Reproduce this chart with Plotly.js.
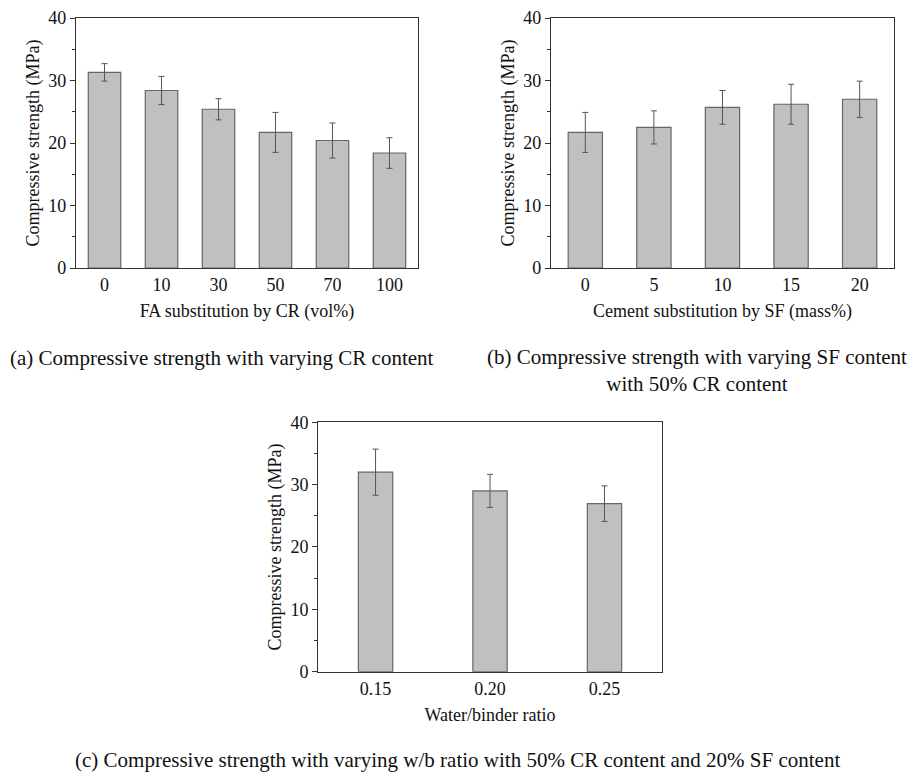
<!DOCTYPE html>
<html>
<head>
<meta charset="utf-8">
<script src="https://cdn.plot.ly/plotly-3.0.1.min.js"></script>
<style>html,body{margin:0;padding:0;background:#fff;}#chart{width:915px;height:776px;}</style>
</head>
<body>
<div id="chart"></div>
<script>
// Panel (a): FA substitution by CR
const crLabels = ['0', '10', '30', '50', '70', '100'];
const crStrength = [31.3, 28.4, 25.4, 21.7, 20.4, 18.4];
const crError = [1.4, 2.25, 1.7, 3.2, 2.8, 2.45];

// Panel (b): Cement substitution by SF
const sfLabels = ['0', '5', '10', '15', '20'];
const sfStrength = [21.7, 22.5, 25.7, 26.2, 27.0];
const sfError = [3.2, 2.65, 2.7, 3.2, 2.9];

// Panel (c): Water/binder ratio
const wbLabels = ['0.15', '0.20', '0.25'];
const wbStrength = [32.0, 29.0, 26.95];
const wbError = [3.7, 2.65, 2.85];

const yTicks = [0, 10, 20, 30, 40];

const serif = 'Liberation Serif, Times New Roman, serif';
const barFill = '#c0c0c0';
const barLine = '#666666';
const errColor = '#555555';

function barTrace(x, y, err, width, xa, ya) {
  return {
    type: 'bar', x: x, y: y, width: width,
    xaxis: xa, yaxis: ya,
    marker: {color: barFill, line: {color: barLine, width: 1.2}},
    error_y: {type: 'data', array: err, visible: true, color: errColor, thickness: 1, width: 3},
    showlegend: false, hoverinfo: 'x+y'
  };
}

const data = [
  barTrace(crLabels, crStrength, crError, 0.57, 'x', 'y'),
  barTrace(sfLabels, sfStrength, sfError, 0.5, 'x2', 'y2'),
  barTrace(wbLabels, wbStrength, wbError, 0.3, 'x3', 'y3')
];

function xAxis(domain, anchor, title, n) {
  return {
    domain: domain, anchor: anchor, type: 'category',
    range: [-0.5, n - 0.5],
    showline: true, mirror: true, linecolor: '#333', linewidth: 1.2,
    ticks: '', showgrid: false, zeroline: false,
    tickfont: {family: serif, size: 18, color: '#111'},
    title: {text: title, font: {family: serif, size: 18, color: '#111'}, standoff: 10},
    fixedrange: true
  };
}
function yAxis(domain, anchor) {
  return {
    domain: domain, anchor: anchor,
    range: [0, 40], tickvals: yTicks, ticktext: yTicks.map(String),
    showline: true, mirror: true, linecolor: '#333', linewidth: 1.2,
    ticks: 'outside', ticklen: 5, tickwidth: 1, tickcolor: '#333',
    minor: {ticks: 'outside', dtick: 5, tick0: 0, ticklen: 3, tickwidth: 1, tickcolor: '#333', showgrid: false},
    showgrid: false, zeroline: false,
    tickfont: {family: serif, size: 18, color: '#111'},
    title: {text: 'Compressive strength (MPa)', font: {family: serif, size: 18, color: '#111'}, standoff: 4},
    fixedrange: true
  };
}

const capFont = {family: serif, size: 21, color: '#111'};

const layout = {
  width: 915, height: 776,
  margin: {l: 0, r: 0, t: 0, b: 0},
  paper_bgcolor: '#fff', plot_bgcolor: '#fff',
  showlegend: false,
  xaxis: xAxis([0.0831, 0.4568], 'y', 'FA substitution by CR (vol%)', crLabels.length),
  yaxis: yAxis([0.6546, 0.9768], 'x'),
  xaxis2: xAxis([0.6022, 0.9770], 'y2', 'Cement substitution by SF (mass%)', sfLabels.length),
  yaxis2: yAxis([0.6546, 0.9768], 'x2'),
  xaxis3: xAxis([0.3479, 0.7232], 'y3', 'Water/binder ratio', wbLabels.length),
  yaxis3: yAxis([0.1344, 0.4558], 'x3'),
  annotations: [
    {text: '(a) Compressive strength with varying CR content', xref: 'paper', yref: 'paper',
     x: 8/915, y: 1 - 358/776, xanchor: 'left', yanchor: 'middle', showarrow: false, font: capFont},
    {text: '(b) Compressive strength with varying SF content<br>with 50% CR content', xref: 'paper', yref: 'paper',
     x: 697/915, y: 1 - 370/776, xanchor: 'center', yanchor: 'middle', showarrow: false, font: capFont, align: 'center'},
    {text: '(c) Compressive strength with varying w/b ratio with 50% CR content and 20% SF content', xref: 'paper', yref: 'paper',
     x: 458/915, y: 1 - 760/776, xanchor: 'center', yanchor: 'middle', showarrow: false, font: capFont}
  ]
};

Plotly.newPlot('chart', data, layout, {displayModeBar: false, staticPlot: true});
</script>
</body>
</html>
